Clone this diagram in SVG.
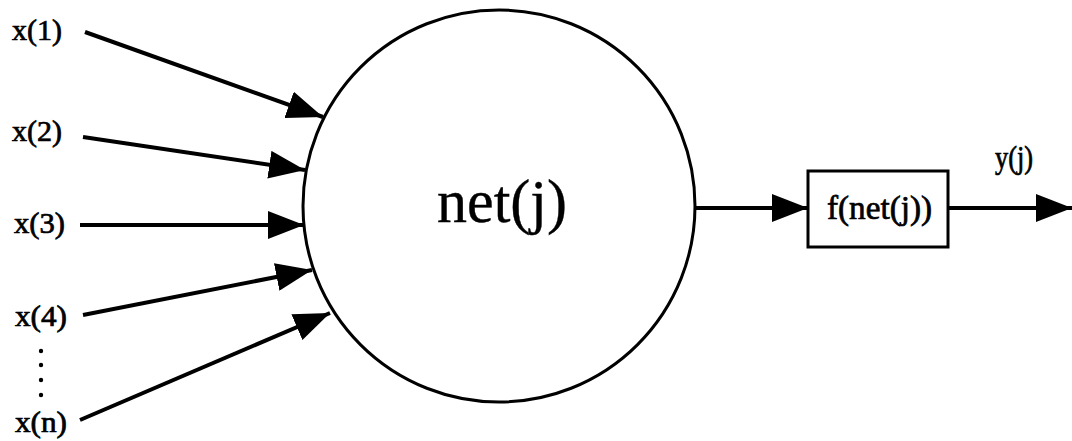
<svg xmlns="http://www.w3.org/2000/svg" width="1072" height="441" viewBox="0 0 1072 441">
<style>
.lbl{font-family:"Liberation Serif","Times New Roman",serif;fill:#000;stroke:#000;stroke-width:0.7}
.big{font-family:"Liberation Serif","Times New Roman",serif;fill:#000;stroke:#000;stroke-width:0.4}
.edge{stroke:#000;stroke-width:4;fill:none;marker-end:url(#ah)}
.shape{stroke:#000;stroke-width:3;fill:#fff}
</style>
<defs>
<marker id="ah" viewBox="0 0 36 28" refX="36" refY="14" markerWidth="36" markerHeight="28" markerUnits="userSpaceOnUse" orient="auto">
<path d="M0,0 L36,14 L0,28 z" fill="#000"/>
</marker>
</defs>
<rect width="1072" height="441" fill="#fff"/>
<g id="connectors">
<line class="edge" x1="85" y1="32" x2="323" y2="117"/>
<line class="edge" x1="83" y1="137" x2="305" y2="170"/>
<line class="edge" x1="80" y1="225" x2="304" y2="225"/>
<line class="edge" x1="83" y1="315" x2="312" y2="270"/>
<line class="edge" x1="80" y1="420" x2="330" y2="313"/>
<line class="edge" x1="695" y1="208" x2="808" y2="208"/>
<line class="edge" x1="948" y1="208" x2="1072" y2="208"/>
</g>
<g id="net">
<circle class="shape" cx="499" cy="206" r="196"/>
<text class="big" x="437" y="222" font-size="62" textLength="130" lengthAdjust="spacingAndGlyphs">net(j)</text>
</g>
<g id="f">
<rect class="shape" x="808" y="171" width="140" height="76"/>
<text class="lbl" x="827" y="219" font-size="33" textLength="105" lengthAdjust="spacingAndGlyphs">f(net(j))</text>
</g>
<g id="inputs">
<text class="lbl" x="12" y="40" font-size="29" textLength="50" lengthAdjust="spacingAndGlyphs">x(1)</text>
<text class="lbl" x="12" y="141" font-size="29" textLength="50" lengthAdjust="spacingAndGlyphs">x(2)</text>
<text class="lbl" x="14" y="233" font-size="29" textLength="51" lengthAdjust="spacingAndGlyphs">x(3)</text>
<text class="lbl" x="15" y="326" font-size="29" textLength="52" lengthAdjust="spacingAndGlyphs">x(4)</text>
<text class="lbl" x="15" y="432" font-size="29" textLength="52" lengthAdjust="spacingAndGlyphs">x(n)</text>
<circle cx="41" cy="351" r="2.2" fill="#000"/>
<circle cx="41" cy="365" r="2.2" fill="#000"/>
<circle cx="41" cy="380" r="2.2" fill="#000"/>
<circle cx="41" cy="395" r="2.2" fill="#000"/>
</g>
<g id="output">
<text class="lbl" x="995" y="168" font-size="31" textLength="38" lengthAdjust="spacingAndGlyphs">y(j)</text>
</g>
</svg>
